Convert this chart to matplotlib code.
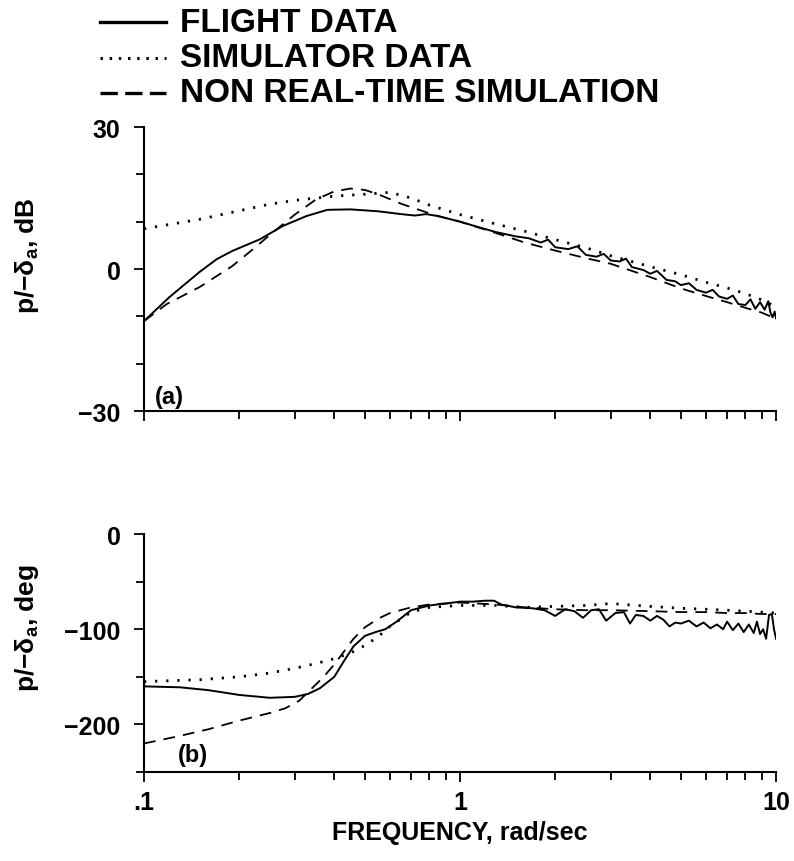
import matplotlib
matplotlib.use("Agg")
import matplotlib.pyplot as plt
from matplotlib.lines import Line2D

plt.rcParams['font.family'] = ['Liberation Sans', 'DejaVu Sans']
plt.rcParams['font.weight'] = 'bold'
plt.rcParams['axes.labelweight'] = 'bold'
plt.rcParams['mathtext.fontset'] = 'custom'
plt.rcParams['mathtext.rm'] = 'Liberation Sans:bold'
plt.rcParams['mathtext.it'] = 'Liberation Sans:bold'
plt.rcParams['mathtext.bf'] = 'Liberation Sans:bold'

# ---- (a) magnitude, dB ----
flight_mag_f = [0.1, 0.12, 0.15, 0.17, 0.19, 0.233, 0.275, 0.327, 0.38, 0.45, 0.55, 0.65, 0.72,
                0.78, 0.85, 1.0, 1.15, 1.3, 1.5, 1.65, 1.8, 1.9, 2.0, 2.2, 2.35, 2.5,
                2.7, 2.85, 3.0, 3.2, 3.35, 3.5, 3.8, 4.0, 4.2, 4.5, 4.8, 5.0, 5.3, 5.6,
                6.0, 6.3, 6.6, 7.0, 7.3, 7.6, 8.0, 8.3, 8.6, 8.9, 9.2, 9.45, 9.6, 9.75,
                9.9, 10.0]
flight_mag = [-11.0, -6.0, -0.6, 2.1, 3.8, 6.3, 9.1, 11.2, 12.5, 12.6, 12.2, 11.6, 11.3,
              11.6, 11.2, 10.0, 8.8, 7.8, 6.9, 6.5, 5.6, 6.2, 4.6, 4.2, 4.8, 3.0,
              2.6, 3.2, 1.8, 1.6, 2.2, 0.4, -0.2, -1.0, -0.4, -2.3, -2.6, -3.4, -3.0, -4.4,
              -5.0, -4.4, -5.8, -6.3, -5.6, -7.4, -7.6, -6.4, -8.4, -7.0, -8.6, -6.8, -9.2, -10.2,
              -9.0, -10.4]

sim_mag_f = [0.1, 0.15, 0.2, 0.25, 0.3, 0.4, 0.5, 0.6, 0.7, 0.8, 1.0, 1.3, 1.6, 2.0,
             2.5, 3.0, 4.0, 5.0, 6.0, 7.0, 8.0, 9.0, 10.0]
sim_mag = [8.5, 10.5, 12.3, 13.7, 14.5, 15.4, 15.8, 16.2, 15.0, 13.5, 11.5, 9.5, 8.0, 6.2,
           4.5, 2.8, 0.5, -1.2, -2.8, -4.0, -5.2, -6.5, -8.0]

nrt_mag_f = [0.1, 0.118, 0.15, 0.19, 0.228, 0.25, 0.3, 0.35, 0.4, 0.45, 0.5, 0.55, 0.65, 0.75,
             0.85, 1.0, 1.3, 1.6, 2.0, 2.5, 3.0, 4.0, 5.0, 6.0, 7.0, 8.0, 9.0, 10.0]
nrt_mag = [-11.0, -7.4, -3.8, 0.6, 4.9, 7.2, 11.5, 14.7, 16.4, 17.0, 16.7, 15.8, 13.8, 12.4,
           11.2, 10.0, 7.6, 5.6, 3.9, 2.3, 1.1, -1.7, -4.1, -5.7, -7.0, -8.2, -9.2, -10.5]

# ---- (b) phase, deg ----
flight_ph_f = [0.1, 0.13, 0.16, 0.2, 0.25, 0.3, 0.33, 0.36, 0.4, 0.43, 0.46, 0.5, 0.54,
               0.58, 0.63, 0.7, 0.8, 0.9, 1.0, 1.1, 1.2, 1.28, 1.35, 1.5, 1.7, 1.85, 2.0,
               2.15, 2.3, 2.45, 2.6, 2.75, 2.9, 3.1, 3.3, 3.45, 3.6, 3.8, 4.0, 4.2, 4.4,
               4.6, 4.8, 5.0, 5.3, 5.6, 5.9, 6.2, 6.5, 6.8, 7.0, 7.3, 7.6, 7.9, 8.2, 8.5,
               8.7, 8.9, 9.1, 9.3, 9.5, 9.7, 9.85, 10.0]
flight_ph = [-160, -161, -164, -169, -172, -171, -168, -162, -150, -133, -118, -107, -103,
             -100, -92, -80, -75, -73, -71, -71, -70, -70, -74, -77, -78, -80, -86,
             -79, -81, -88, -80, -79, -91, -83, -82, -94, -85, -86, -91, -86, -90,
             -97, -93, -94, -91, -97, -93, -99, -95, -100, -92, -101, -94, -103, -95, -104,
             -92, -105, -100, -110, -85, -84, -100, -110]

sim_ph_f = [0.1, 0.15, 0.2, 0.25, 0.3, 0.35, 0.4, 0.45, 0.5, 0.55, 0.6, 0.7, 0.8, 1.0,
            1.3, 1.6, 2.0, 2.5, 3.0, 4.0, 5.0, 6.0, 7.0, 8.0, 9.0, 10.0]
sim_ph = [-155, -153, -150, -146, -141, -136, -131, -125, -117, -108, -97, -82, -77, -75,
          -75, -77, -76, -75, -73, -76, -78, -79, -80, -81, -82, -83]

nrt_ph_f = [0.1, 0.13, 0.16, 0.2, 0.25, 0.28, 0.31, 0.34, 0.37, 0.4, 0.43, 0.46, 0.5,
            0.55, 0.6, 0.7, 0.8, 1.0, 1.3, 1.6, 2.0, 2.5, 3.0, 4.0, 5.0, 6.0, 7.0, 8.0,
            9.0, 10.0]
nrt_ph = [-220, -212, -205, -196, -188, -183, -175, -162, -150, -137, -123, -110, -98,
          -89, -83, -77, -74, -72, -74, -77, -79, -80, -80, -81, -82, -82, -83, -83,
          -84, -84]

labels = ['FLIGHT DATA', 'SIMULATOR DATA', 'NON REAL-TIME SIMULATION']

solid = dict(color='black', lw=1.4, linestyle='-')
dotted = dict(color='black', lw=2.0, linestyle=(0, (0.8, 3.2)))
dashed = dict(color='black', lw=1.3, linestyle=(0, (6.5, 4.5)))

# legend handles: thicker strokes, tighter patterns
leg_styles = [dict(color='black', lw=2.4, linestyle='-'),
              dict(color='black', lw=2.2, linestyle=(0, (0.8, 2.2))),
              dict(color='black', lw=2.4, linestyle=(0, (5.2, 2.2)))]


def style_axes(ax):
    for s in ['top', 'right']:
        ax.spines[s].set_visible(False)
    for s in ['left', 'bottom']:
        ax.spines[s].set_linewidth(1.5)
    ax.set_xscale('log')
    ax.set_xlim(0.1, 10)
    ax.tick_params(which='major', direction='out', length=7, width=1.3, labelsize=18)
    ax.tick_params(which='minor', direction='out', length=6, width=1.3)
    ax.tick_params(axis='y', which='major', pad=10)
    ax.tick_params(axis='x', which='major', pad=6)


fig = plt.figure(figsize=(7.94, 8.62), dpi=100)
ax1 = fig.add_axes([0.1814, 0.522, 0.796, 0.3295])
ax2 = fig.add_axes([0.1814, 0.1032, 0.796, 0.2761])

for ax in (ax1, ax2):
    style_axes(ax)

ax1.plot(flight_mag_f, flight_mag, **solid)
ax1.plot(sim_mag_f, sim_mag, **dotted)
ax1.plot(nrt_mag_f, nrt_mag, **dashed)
ax1.set_ylim(-30, 30)
ax1.set_yticks([-30, 0, 30])
ax1.set_yticks([-20, -10, 10, 20], minor=True)
ax1.set_xticks([0.1, 1, 10])
ax1.tick_params(axis='x', which='both', labelbottom=False)
ax1.set_ylabel("p/−δ$_\\mathrm{a}$, dB", fontsize=19)
ax1.yaxis.set_label_coords(-0.163, 0.55)
ax1.text(0.108, -27, "(a)", fontsize=17, va='center', ha='left')

ax2.plot(flight_ph_f, flight_ph, **solid)
ax2.plot(sim_ph_f, sim_ph, **dotted)
ax2.plot(nrt_ph_f, nrt_ph, **dashed)
ax2.set_ylim(-250, 0)
ax2.set_yticks([-200, -100, 0])
ax2.set_yticks([-250, -150, -50], minor=True)
ax2.set_xticks([0.1, 1, 10])
ax2.set_xticklabels(['.1', '1', '10'])
ax2.set_ylabel("p/−δ$_\\mathrm{a}$, deg", fontsize=19)
ax2.yaxis.set_label_coords(-0.163, 0.61)
ax2.set_xlabel("FREQUENCY, rad/sec", fontsize=18, labelpad=4)
ax2.text(0.128, -232, "(b)", fontsize=17, va='center', ha='left')

# legend drawn in figure coordinates
for i, (lab, st) in enumerate(zip(labels, leg_styles)):
    y = 1 - (23 + 35.5 * i) / 862
    fig.add_artist(Line2D([100 / 794, 166 / 794], [y, y], transform=fig.transFigure, **st))
    fig.text(180 / 794, y, lab, fontsize=24, va='center', ha='left')

fig.savefig('out.png', dpi=100)
